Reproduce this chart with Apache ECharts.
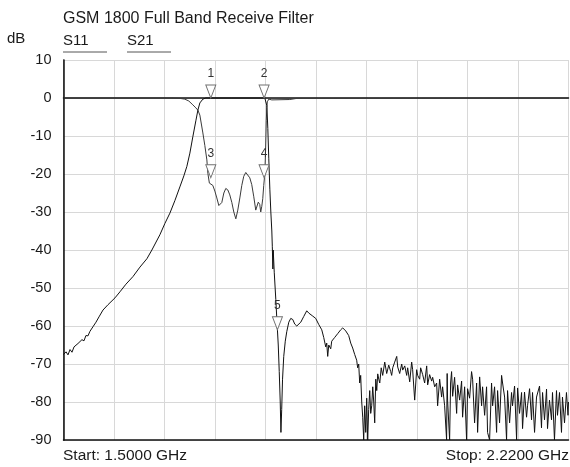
<!DOCTYPE html>
<html>
<head>
<meta charset="utf-8">
<title>GSM 1800 Full Band Receive Filter</title>
<script src="https://cdn.jsdelivr.net/npm/echarts@6/dist/echarts.min.js"></script>
<style>
  html, body { margin: 0; padding: 0; background: #fff; }
  #chart { width: 570px; height: 467px; }
</style>
</head>
<body>
<div id="chart"></div>
<script>
// frequencies in MHz, levels in dB
var s21Freq = [1500, 1503.6, 1506.4, 1509.3, 1512.1, 1515, 1517.8, 1520.7, 1523.5, 1526.3, 1529.2, 1532, 1534.9, 1537.7,
  1542, 1546.3, 1550.6, 1556.3, 1563.4, 1573.4, 1580.5, 1589, 1599, 1609, 1618.9, 1626, 1637.4, 1644.6, 1651.7,
  1658.8, 1665.9, 1671.6, 1675.9, 1680.2, 1684.4, 1688.7, 1691.6, 1694.4, 1698.7, 1703, 1740, 1787,
  1788.4, 1789.9, 1791.3, 1792.7, 1794.2, 1795.6, 1797, 1797.7, 1798.5, 1799, 1800.5, 1802.7, 1804.1, 1806.2,
  1807.6, 1809, 1810, 1811.1, 1812.3, 1814, 1816.2, 1818.3, 1821.2, 1824, 1826.9, 1829.7, 1832.6, 1835.4,
  1838.3, 1842.5, 1846.8, 1849.7, 1852.5, 1855.4, 1859.6, 1863.9, 1868.2, 1871, 1873.9, 1875.3, 1876.7,
  1878.2, 1881, 1882.4, 1886.7, 1891, 1895.2, 1898.1, 1902.4, 1906.6, 1909.5, 1912.3, 1915.2, 1918, 1919.4,
  1920.9, 1922.3, 1923.7, 1925.2, 1926.6, 1928, 1929.4, 1930.9, 1932.3, 1933.7, 1935.1, 1936.6, 1938, 1939.4,
  1940.9, 1942.3, 1943.7, 1945.2, 1946.6, 1948, 1949.5, 1950.9, 1953, 1955.1, 1958, 1960.8, 1963.7, 1966.5,
  1967.9, 1969.4, 1972.2, 1975.1, 1976.5, 1979.3, 1982.2, 1983.6, 1986.5, 1989.3, 1990.7, 1993.6, 1996.4,
  1997.8, 2000.7, 2003.5, 2005, 2007.8, 2009.2, 2012.1, 2014.9, 2017.8, 2019.2, 2022, 2024.9, 2026.3, 2029.2,
  2032, 2033.4, 2036.3, 2039.1, 2040.5, 2043.4, 2046.2, 2047, 2047.6, 2050.5, 2051.9, 2053.3, 2054.8, 2057.6,
  2060.5, 2061.9, 2064.8, 2067.6, 2069, 2071.9, 2074.7, 2076.1, 2079, 2081.8, 2083.3, 2086.1, 2089, 2090.4,
  2093.3, 2096.1, 2097.5, 2100.4, 2103.2, 2104.6, 2107.5, 2110.3, 2111.8, 2114.6, 2117.5, 2118.9, 2121.7,
  2124.6, 2126, 2128.9, 2131.7, 2133.1, 2136, 2138.8, 2140.2, 2143.1, 2146, 2147.4, 2150.2, 2153.1, 2154.5,
  2157.3, 2160.2, 2161.6, 2164.5, 2167.3, 2168.7, 2171.6, 2174.4, 2178.7, 2181.5, 2183, 2185.8, 2188.7,
  2190.1, 2192.9, 2195.8, 2197.2, 2200, 2202.9, 2204.3, 2207.2, 2210, 2211.4, 2214.3, 2217.1, 2219.3, 2220];
var s21Db = [-67.5, -66.8, -67.6, -66.2, -66.9, -65.5, -66, -64.6, -64.9, -63.6, -63.9, -62.5, -62.6, -61.4,
  -60.2, -59, -57.6, -55.8, -54.4, -52.6, -51, -49, -47, -44.5, -42.3, -40, -36, -33, -30.3,
  -27, -23.4, -20.5, -18, -14.5, -10.2, -6, -3.2, -1.3, -0.3, 0, 0, 0,
  -0.5, -2, -8, -16, -24, -30, -35, -39, -45, -40, -46, -53, -58, -65,
  -72, -80, -88, -82, -74, -68, -64, -61.5, -59, -58, -58.3, -59.5, -60, -59.8,
  -59, -57.5, -56, -56.6, -56.3, -57.4, -58, -59.6, -61, -63, -65.5, -64.5, -68,
  -65, -66, -64, -63, -62, -61, -60.5, -61.3, -62.5, -64.5, -65.8, -67.5, -69, -71,
  -70, -75, -73, -80, -84, -90, -81, -88, -79, -90, -82, -77, -83, -81,
  -76, -80, -85.5, -74, -77, -72.6, -74, -75, -71, -73, -69.5, -72.5, -70.3, -72,
  -73, -71, -69.5, -68, -70.8, -72.5, -70, -71.6, -70.5, -73, -71, -74.7, -69.5,
  -71.5, -79.5, -71.5, -73, -74, -71, -72.8, -75, -70.5, -75.5, -72.8, -74.5, -73.5, -76,
  -75, -81, -74, -78.7, -76, -81, -90, -72.5, -79.5, -90, -75, -72, -78.5, -73.5,
  -83, -75.5, -79.5, -74.5, -84, -76, -90, -76.5, -79, -72, -74, -85.5, -75, -88,
  -73.4, -81, -76, -83.5, -76, -88, -90, -75, -81, -76, -88, -77, -85.5,
  -73, -75, -78.7, -90, -77, -85.5, -77.5, -81, -75.8, -90, -76.3, -83, -77.5, -87,
  -77.4, -84, -81, -76.5, -84.7, -77.5, -88, -78.7, -75.8, -86.8, -77.5, -84.7, -76.6,
  -87, -79.5, -84.7, -77.5, -90, -77, -83.5, -77.5, -88, -78.7, -85.5, -77.5, -83.5, -80];

var s11Freq = [1500, 1656, 1665.9, 1673, 1678.7, 1684.4, 1688.7, 1691.6, 1694.4, 1698.7, 1701.5, 1704.4,
  1705.8, 1708, 1710.1, 1712.9, 1715.8, 1718.6, 1721.5, 1723.6, 1725.7, 1728.6, 1731.4, 1734.3, 1737.1,
  1740, 1742.8, 1745.7, 1748.5, 1751.4, 1754.2, 1757, 1759.9, 1762.7, 1765.6, 1768.4, 1771.3, 1774.1,
  1775.6, 1777.7, 1779.8, 1781.2, 1782.7, 1784.1, 1785.5, 1787, 1788.1, 1789.1, 1789.9, 1790.6, 1792.7,
  1797, 1822.6, 1832.6, 2220];
var s11Db = [0, 0, -0.1, -0.3, -0.8, -1.8, -2.6, -3.2, -4.5, -9.2, -12.5, -16.3,
  -19.8, -22.4, -22, -23, -24.5, -26.3, -28.3, -28.8, -27.5, -25, -23.8, -24.2, -25.5,
  -27.5, -30, -31.8, -29.5, -26.3, -23, -20.6, -19.6, -19.9, -21, -22.8, -26, -29.5,
  -30, -27.4, -28, -30, -28.5, -26.5, -23, -20, -14, -6, -2.5, -1, -0.3,
  -0.5, -0.4, -0.1, 0];

// marker table: label, trace, frequency, level
var markerNames = ['1', '2', '3', '4', '5'];
var markerTrace = ['S21', 'S21', 'S11', 'S11', 'S21'];
var markerFreq = [1710, 1786, 1710, 1786, 1805];
var markerDb = [0, 0, -21, -21, -61];

var yTicks = [10, 0, -10, -20, -30, -40, -50, -60, -70, -80, -90];

var font = 'Liberation Sans, Arial, Helvetica, sans-serif';
var textCol = '#1a1a1a';

function zip(xs, ys) {
  var out = [];
  for (var i = 0; i < xs.length; i++) out.push([xs[i], ys[i]]);
  return out;
}

function markers(trace) {
  var out = [];
  for (var i = 0; i < markerNames.length; i++) {
    if (markerTrace[i] != trace) continue;
    out.push({ name: markerNames[i], coord: [markerFreq[i], markerDb[i]] });
  }
  return out;
}

var markStyle = {
  symbol: 'path://M0,0L10,0L5,13Z',
  symbolSize: [10, 13],
  symbolOffset: [0, -6.5],
  itemStyle: { color: '#fff', borderColor: '#707070', borderWidth: 1 },
  label: {
    show: true, position: 'top', distance: 5,
    formatter: function (p) { return p.name; },
    color: '#333', fontSize: 12, fontFamily: font
  },
  animation: false
};

var chart = echarts.init(document.getElementById('chart'), null, { renderer: 'canvas' });

chart.setOption({
  animation: false,
  backgroundColor: '#fff',
  title: {
    text: 'GSM 1800 Full Band Receive Filter',
    left: 58, top: 6,
    textStyle: { fontFamily: font, fontSize: 16, fontWeight: 'normal', color: textCol }
  },
  grid: { left: 63.5, right: 1.5, top: 60, bottom: 27 },
  xAxis: [{
    type: 'value', min: 1500, max: 2220,
    axisLine: { show: true, onZero: false, lineStyle: { color: '#111', width: 1.5 } },
    axisTick: { show: false }, axisLabel: { show: false }, splitLine: { show: false }
  }, {
    // 10 graticule divisions across the sweep
    type: 'value', position: 'top', min: 0, max: 10, interval: 1,
    axisLine: { show: true, lineStyle: { color: '#111', width: 1.5 } },
    axisTick: { show: false }, axisLabel: { show: false },
    splitLine: { show: true, lineStyle: { color: '#d8d8d8', width: 1 } }
  }],
  yAxis: [{
    type: 'value', min: -90, max: 10, interval: 10,
    axisLine: { show: true, onZero: false, lineStyle: { color: '#111', width: 1.5 } },
    axisTick: { show: false },
    axisLabel: {
      margin: 12, fontFamily: font, fontSize: 14.5, color: textCol,
      formatter: function (v) { return yTicks.indexOf(v) >= 0 ? String(v) : ''; }
    },
    splitLine: { show: true, lineStyle: { color: '#d8d8d8', width: 1 } }
  }, {
    type: 'value', position: 'right', min: -90, max: 10,
    axisLine: { show: true, lineStyle: { color: '#333', width: 1 } },
    axisTick: { show: false }, axisLabel: { show: false }, splitLine: { show: false }
  }],
  graphic: [
    { type: 'text', left: 7, top: 31, style: { text: 'dB', font: '15px ' + font, fill: textCol } },
    { type: 'text', left: 63, top: 33, style: { text: 'S11', font: '15px ' + font, fill: textCol } },
    { type: 'line', shape: { x1: 63, y1: 52, x2: 107, y2: 52 }, style: { stroke: '#555', lineWidth: 1 } },
    { type: 'text', left: 127, top: 33, style: { text: 'S21', font: '15px ' + font, fill: textCol } },
    { type: 'line', shape: { x1: 127, y1: 52, x2: 171, y2: 52 }, style: { stroke: '#555', lineWidth: 1 } },
    { type: 'text', left: 63, top: 448, style: { text: 'Start: 1.5000 GHz', font: '15.5px ' + font, fill: textCol } },
    { type: 'text', right: 1, top: 448, style: { text: 'Stop: 2.2200 GHz', font: '15.5px ' + font, fill: textCol } }
  ],
  series: [{
    name: 'S11', type: 'line', xAxisIndex: 0, yAxisIndex: 0,
    data: zip(s11Freq, s11Db), showSymbol: false, symbol: 'none',
    lineStyle: { color: '#3a3a3a', width: 1 },
    markPoint: Object.assign({ data: markers('S11') }, markStyle),
    z: 3
  }, {
    name: 'S21', type: 'line', xAxisIndex: 0, yAxisIndex: 0,
    data: zip(s21Freq, s21Db), showSymbol: false, symbol: 'none',
    lineStyle: { color: '#111', width: 1 },
    markPoint: Object.assign({ data: markers('S21') }, markStyle),
    z: 4
  }]
});
</script>
</body>
</html>
